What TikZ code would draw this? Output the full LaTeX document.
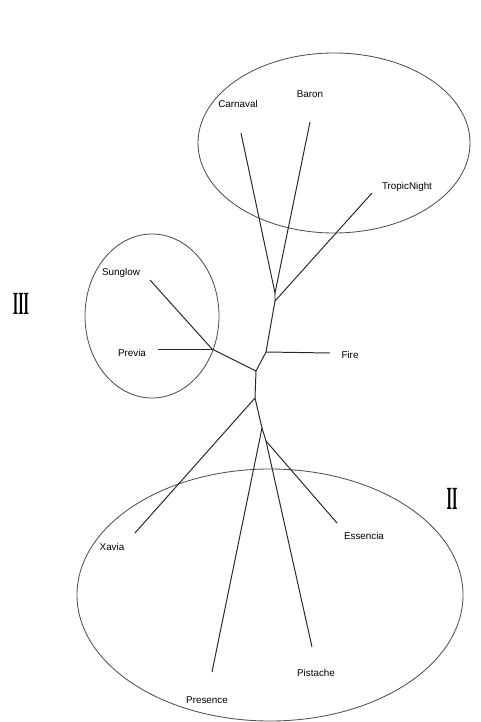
\documentclass[tikz,border=0pt]{standalone}
\usepackage{graphicx}
\usepackage{fontspec}
\setmainfont{Liberation Sans}
\newfontfamily\numfont{Liberation Serif}
\usetikzlibrary{positioning}
\definecolor{TreeGray}{RGB}{40,40,40}
\definecolor{RingGray}{RGB}{80,80,80}

\begin{document}
\begin{tikzpicture}[x=0.025cm,y=-0.025cm,
    cultivar/.style={font=\fontsize{7}{8}\selectfont,inner sep=1pt},
    groupnum/.style={font=\numfont\bfseries\fontsize{23}{23}\selectfont,inner sep=0pt},
    branch/.style={TreeGray,line width=0.7pt}]
      \useasboundingbox (0,0) rectangle (480,722);
      % group rings
      \draw[RingGray,line width=0.6pt] (334,143) ellipse [x radius=136,y radius=90];
      \draw[RingGray,line width=0.6pt] (152,316) ellipse [x radius=67,y radius=82];
      \draw[RingGray,line width=0.6pt] (270,595) ellipse [x radius=193,y radius=126];
      \node[groupnum] (gIII) at (21,304) {\scalebox{0.43}[1]{III}};
      \node[groupnum] (gII) at (452,499) {\scalebox{0.43}[1]{II}};
      % inner nodes of the tree
      \coordinate (n1) at (275,293);
      \coordinate (n2) at (275,301);
      \coordinate (n3) at (266,352);
      \coordinate (n4) at (256,371);
      \coordinate (n5) at (212,349);
      \coordinate (n6) at (255,398);
      \coordinate (n7) at (262,428);
      \coordinate (n8) at (266,441);
      % leaves: tip of branch and label
      \foreach \leaf/\tip/\lab/\txt in {car/{241,133}/{238,104}/Carnaval,
          bar/{310,122}/{310,94}/Baron,
          tro/{372,193}/{407,187}/TropicNight,
          sun/{150,280}/{121,273}/Sunglow,
          pre/{158,349}/{132,353}/Previa,
          fir/{330,353}/{350,355}/Fire,
          xav/{135,533}/{112,547}/Xavia,
          ess/{337,523}/{364,536}/Essencia,
          pis/{312,647}/{316,673}/Pistache,
          prs/{212,672}/{207,700}/Presence}{
        \coordinate (\leaf-tip) at (\tip);
        \node[cultivar] (\leaf) at (\lab) {\txt};
      }
      % branches
      \draw[branch] (car-tip) -- (n1) -- (bar-tip);
      \draw[branch] (n1) -- (n2) -- (tro-tip);
      \draw[branch] (n2) -- (n3) -- (fir-tip);
      \draw[branch] (n3) -- (n4) -- (n5) -- (sun-tip);
      \draw[branch] (n5) -- (pre-tip);
      \draw[branch] (n4) -- (n6) -- (xav-tip);
      \draw[branch] (n6) -- (n7) -- (prs-tip);
      \draw[branch] (n7) -- (n8) -- (pis-tip);
      \draw[branch] (n8) -- (ess-tip);
    \end{tikzpicture}
\end{document}
